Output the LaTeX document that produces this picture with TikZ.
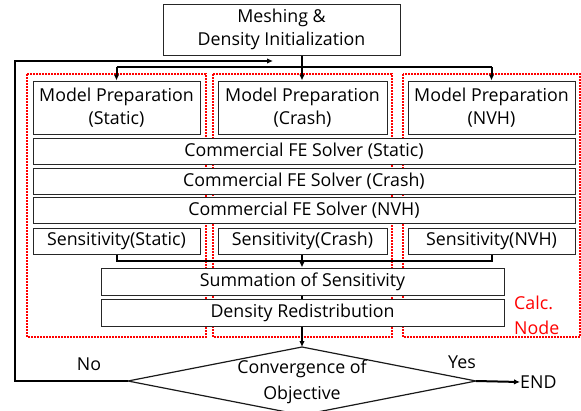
\documentclass[tikz,border=0pt]{standalone}
\usepackage{fontspec}
\setmainfont{Open Sans}
\usetikzlibrary{arrows.meta,calc}
\begin{document}
\begin{tikzpicture}[x=1pt,y=-1pt,
  box/.style={draw=black!85,fill=white,line width=1pt,inner sep=0pt,align=center,font=\fontsize{17.8}{23}\selectfont},
  conn/.style={line width=2pt,black},
  arr/.style={conn,-{Latex[length=6pt,width=5.5pt]}},
  region/.style={draw=red,line width=2pt,densely dotted},
  lbl/.style={inner sep=0pt,font=\fontsize{17.8}{23}\selectfont}]
\useasboundingbox (0,0) rectangle (581,410);
% red dotted regions
\draw[region] (27,74) rectangle (206,337);
\draw[region] (213,74) rectangle (392,337);
\draw[region] (403,74) rectangle (580,337);
% boxes
\node[box,minimum width=237pt,minimum height=51pt] (top) at (281.5,29.5) {Meshing \&\\Density Initialization};
\node[box,minimum width=167pt,minimum height=53pt] (ms) at (116.5,107.5) {Model Preparation\\(Static)};
\node[box,minimum width=169pt,minimum height=53pt] (mc) at (302.5,107.5) {Model Preparation\\(Crash)};
\node[box,minimum width=167pt,minimum height=53pt] (mn) at (491.5,107.5) {Model Preparation\\(NVH)};
\node[box,minimum width=542pt,minimum height=26pt] (fs) at (304,151) {Commercial FE Solver (Static)};
\node[box,minimum width=542pt,minimum height=26pt] (fc) at (304,181) {Commercial FE Solver (Crash)};
\node[box,minimum width=542pt,minimum height=26pt] (fn) at (304,210.5) {Commercial FE Solver (NVH)};
\node[box,minimum width=167pt,minimum height=26pt] (ss) at (116.5,241) {Sensitivity(Static)};
\node[box,minimum width=169pt,minimum height=26pt] (sc) at (302.5,241) {Sensitivity(Crash)};
\node[box,minimum width=167pt,minimum height=26pt] (sn) at (491.5,241) {Sensitivity(NVH)};
\node[box,minimum width=403pt,minimum height=27pt] (sum) at (302.5,281.5) {Summation of Sensitivity};
\node[box,minimum width=403pt,minimum height=27pt] (dr) at (302.5,312.5) {Density Redistribution};
% diamond
\coordinate (dl) at (128,381);
\coordinate (dt) at (302,347);
\coordinate (dr2) at (476,381);
\coordinate (db) at (302,415);
\draw[line width=1.2pt,black!90] (dl) -- (dt) -- (dr2) -- (db) -- cycle;
\node[lbl,align=center,font=\fontsize{17.8}{26}\selectfont] (conv) at (302,382) {Convergence of\\Objective};
% labels
\node[lbl] (no) at (89,364) {No};
\node[lbl] (yes) at (462,362) {Yes};
\node[lbl,anchor=west] (end) at (520,382) {END};
\node[lbl,red,align=left,anchor=west,font=\fontsize{17.8}{25}\selectfont] (calc) at (514,315) {Calc.\\Node};
% connectors
\coordinate (jtop) at (302,67);
\draw[arr] (top.south -| jtop) -- (mc.north -| jtop);
\draw[conn] (ms.north |- jtop) -- (mn.north |- jtop);
\draw[arr] (ms.north |- jtop) -- (ms.north);
\draw[arr] (mn.north |- jtop) -- (mn.north);
\coordinate (jsen) at (302,261);
\draw[conn] (ss.south) -- (ss.south |- jsen) -- (sn.south |- jsen) -- (sn.south);
\draw[arr] (sc.south -| jsen) -- (sum.north -| jsen);
\draw[conn] (sum.south -| jsen) -- (dr.north -| jsen);
\draw[arr] (dr.south -| dt) -- (dt);
\coordinate (loopa) at (15,381);
\coordinate (loopb) at (15,61);
\coordinate (loopc) at (273,61);
\draw[line width=2.5pt,-{Latex[length=6pt,width=5.5pt]}] (dl) -- (loopa) -- (loopb) -- (loopc);
\draw[arr] (dr2) -- (end.west);
\end{tikzpicture}
\end{document}
